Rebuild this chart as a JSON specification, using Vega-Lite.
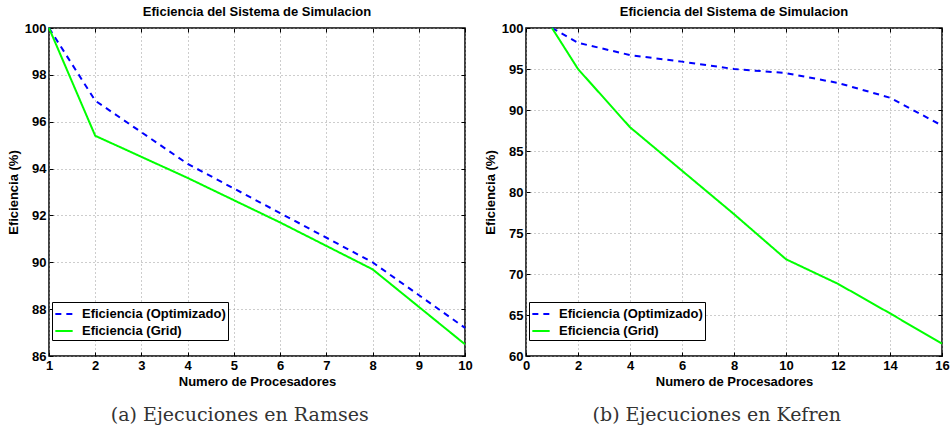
{
  "$schema": "https://vega.github.io/schema/vega-lite/v6.json",
  "background": "white",
  "padding": {"left": 6, "top": 5, "right": 0, "bottom": 0},
  "datasets": {
    "d": [
      {"panel": "a", "procs": 1, "eff": 100, "serie": "Eficiencia (Optimizado)"},
      {"panel": "a", "procs": 2, "eff": 96.9, "serie": "Eficiencia (Optimizado)"},
      {"panel": "a", "procs": 4, "eff": 94.2, "serie": "Eficiencia (Optimizado)"},
      {"panel": "a", "procs": 6, "eff": 92.1, "serie": "Eficiencia (Optimizado)"},
      {"panel": "a", "procs": 8, "eff": 90.0, "serie": "Eficiencia (Optimizado)"},
      {"panel": "a", "procs": 10, "eff": 87.2, "serie": "Eficiencia (Optimizado)"},
      {"panel": "a", "procs": 1, "eff": 100, "serie": "Eficiencia (Grid)"},
      {"panel": "a", "procs": 2, "eff": 95.4, "serie": "Eficiencia (Grid)"},
      {"panel": "a", "procs": 4, "eff": 93.6, "serie": "Eficiencia (Grid)"},
      {"panel": "a", "procs": 6, "eff": 91.7, "serie": "Eficiencia (Grid)"},
      {"panel": "a", "procs": 8, "eff": 89.7, "serie": "Eficiencia (Grid)"},
      {"panel": "a", "procs": 10, "eff": 86.5, "serie": "Eficiencia (Grid)"},
      {"panel": "b", "procs": 1, "eff": 100, "serie": "Eficiencia (Optimizado)"},
      {"panel": "b", "procs": 2, "eff": 98.2, "serie": "Eficiencia (Optimizado)"},
      {"panel": "b", "procs": 4, "eff": 96.7, "serie": "Eficiencia (Optimizado)"},
      {"panel": "b", "procs": 6, "eff": 95.9, "serie": "Eficiencia (Optimizado)"},
      {"panel": "b", "procs": 8, "eff": 95.0, "serie": "Eficiencia (Optimizado)"},
      {"panel": "b", "procs": 10, "eff": 94.5, "serie": "Eficiencia (Optimizado)"},
      {"panel": "b", "procs": 12, "eff": 93.3, "serie": "Eficiencia (Optimizado)"},
      {"panel": "b", "procs": 14, "eff": 91.5, "serie": "Eficiencia (Optimizado)"},
      {"panel": "b", "procs": 16, "eff": 88.1, "serie": "Eficiencia (Optimizado)"},
      {"panel": "b", "procs": 1, "eff": 100, "serie": "Eficiencia (Grid)"},
      {"panel": "b", "procs": 2, "eff": 95.0, "serie": "Eficiencia (Grid)"},
      {"panel": "b", "procs": 4, "eff": 87.9, "serie": "Eficiencia (Grid)"},
      {"panel": "b", "procs": 6, "eff": 82.6, "serie": "Eficiencia (Grid)"},
      {"panel": "b", "procs": 8, "eff": 77.3, "serie": "Eficiencia (Grid)"},
      {"panel": "b", "procs": 10, "eff": 71.8, "serie": "Eficiencia (Grid)"},
      {"panel": "b", "procs": 12, "eff": 68.8, "serie": "Eficiencia (Grid)"},
      {"panel": "b", "procs": 14, "eff": 65.2, "serie": "Eficiencia (Grid)"},
      {"panel": "b", "procs": 16, "eff": 61.5, "serie": "Eficiencia (Grid)"}
    ]
  },
  "config": {
    "font": "Liberation Sans",
    "view": {"stroke": "black", "strokeWidth": 1.5},
    "concat": {"spacing": 10},
    "axis": {
      "domain": false,
      "labelFont": "Liberation Sans",
      "labelFontSize": 13,
      "labelFontWeight": "bold",
      "labelColor": "black",
      "titleFont": "Liberation Sans",
      "titleFontSize": 13,
      "titleFontWeight": "bold",
      "titleColor": "black",
      "grid": true,
      "gridColor": "#9a9a9a",
      "gridDash": [1, 3],
      "gridWidth": 1,
      "ticks": true,
      "tickSize": -4,
      "tickColor": "black",
      "tickWidth": 1,
      "labelPadding": 7,
      "labelFlush": false,
      "labelOverlap": false
    },
    "legend": {
      "orient": "none",
      "legendX": 3,
      "legendY": 274,
      "title": null,
      "strokeColor": "black",
      "fillColor": "white",
      "padding": 2,
      "labelFont": "Liberation Sans",
      "labelFontSize": 13,
      "labelFontWeight": "bold",
      "labelColor": "black",
      "symbolType": "stroke",
      "symbolSize": 300,
      "symbolStrokeWidth": 2,
      "rowPadding": 0,
      "labelOffset": 8
    }
  },
  "hconcat": [
    {
      "title": {"text": "(a) Ejecuciones en Ramses", "orient": "bottom", "anchor": "middle", "font": "DejaVu Serif", "fontSize": 19, "fontWeight": "normal", "color": "#333333", "offset": 17},
      "hconcat": [
        {
          "width": 416,
          "height": 328,
          "title": {"text": "Eficiencia del Sistema de Simulacion", "font": "Liberation Sans", "fontSize": 13, "fontWeight": "bold", "color": "black", "offset": 3},
          "data": {"name": "d"},
          "transform": [{"filter": "datum.panel == 'a'"}],
          "layer": [
            {
              "mark": {"type": "line", "strokeWidth": 2},
              "encoding": {
                "x": {"field": "procs", "type": "quantitative", "title": "Numero de Procesadores",
                      "scale": {"domain": [1, 10], "nice": false, "zero": false},
                      "axis": {"orient": "bottom", "values": [1, 2, 3, 4, 5, 6, 7, 8, 9, 10], "titlePadding": 3}},
                "y": {"field": "eff", "type": "quantitative", "title": "Eficiencia (%)",
                      "scale": {"domain": [86, 100], "nice": false, "zero": false},
                      "axis": {"orient": "left", "values": [86, 88, 90, 92, 94, 96, 98, 100], "titlePadding": 4}},
                "color": {"field": "serie", "type": "nominal",
                          "scale": {"domain": ["Eficiencia (Optimizado)", "Eficiencia (Grid)"], "range": ["#0000ff", "#00ff00"]},
                          "legend": {}},
                "strokeDash": {"field": "serie", "type": "nominal",
                          "scale": {"domain": ["Eficiencia (Optimizado)", "Eficiencia (Grid)"], "range": [[6, 5], [1, 0]]},
                          "legend": {}}
              }
            },
            {
              "mark": {"type": "point", "opacity": 0},
              "encoding": {
                "x": {"field": "procs", "type": "quantitative",
                      "scale": {"domain": [1, 10], "nice": false, "zero": false},
                      "axis": {"orient": "top", "values": [1, 2, 3, 4, 5, 6, 7, 8, 9, 10], "labels": false, "grid": false, "title": null}},
                "y": {"field": "eff", "type": "quantitative",
                      "scale": {"domain": [86, 100], "nice": false, "zero": false},
                      "axis": {"orient": "right", "values": [86, 88, 90, 92, 94, 96, 98, 100], "labels": false, "grid": false, "title": null}}
              }
            }
          ],
          "resolve": {"scale": {"x": "independent", "y": "independent"}}
        }
      ]
    },
    {
      "title": {"text": "(b) Ejecuciones en Kefren", "orient": "bottom", "anchor": "middle", "font": "DejaVu Serif", "fontSize": 19, "fontWeight": "normal", "color": "#333333", "offset": 17},
      "hconcat": [
        {
          "width": 416,
          "height": 328,
          "title": {"text": "Eficiencia del Sistema de Simulacion", "font": "Liberation Sans", "fontSize": 13, "fontWeight": "bold", "color": "black", "offset": 3},
          "data": {"name": "d"},
          "transform": [{"filter": "datum.panel == 'b'"}],
          "layer": [
            {
              "mark": {"type": "line", "strokeWidth": 2},
              "encoding": {
                "x": {"field": "procs", "type": "quantitative", "title": "Numero de Procesadores",
                      "scale": {"domain": [0, 16], "nice": false, "zero": false},
                      "axis": {"orient": "bottom", "values": [0, 2, 4, 6, 8, 10, 12, 14, 16], "titlePadding": 3}},
                "y": {"field": "eff", "type": "quantitative", "title": "Eficiencia (%)",
                      "scale": {"domain": [60, 100], "nice": false, "zero": false},
                      "axis": {"orient": "left", "values": [60, 65, 70, 75, 80, 85, 90, 95, 100], "titlePadding": 4}},
                "color": {"field": "serie", "type": "nominal",
                          "scale": {"domain": ["Eficiencia (Optimizado)", "Eficiencia (Grid)"], "range": ["#0000ff", "#00ff00"]},
                          "legend": {}},
                "strokeDash": {"field": "serie", "type": "nominal",
                          "scale": {"domain": ["Eficiencia (Optimizado)", "Eficiencia (Grid)"], "range": [[6, 5], [1, 0]]},
                          "legend": {}}
              }
            },
            {
              "mark": {"type": "point", "opacity": 0},
              "encoding": {
                "x": {"field": "procs", "type": "quantitative",
                      "scale": {"domain": [0, 16], "nice": false, "zero": false},
                      "axis": {"orient": "top", "values": [0, 2, 4, 6, 8, 10, 12, 14, 16], "labels": false, "grid": false, "title": null}},
                "y": {"field": "eff", "type": "quantitative",
                      "scale": {"domain": [60, 100], "nice": false, "zero": false},
                      "axis": {"orient": "right", "values": [60, 65, 70, 75, 80, 85, 90, 95, 100], "labels": false, "grid": false, "title": null}}
              }
            }
          ],
          "resolve": {"scale": {"x": "independent", "y": "independent"}}
        }
      ]
    }
  ],
  "resolve": {"scale": {"color": "independent", "strokeDash": "independent"}, "legend": {"color": "independent", "strokeDash": "independent"}}
}
